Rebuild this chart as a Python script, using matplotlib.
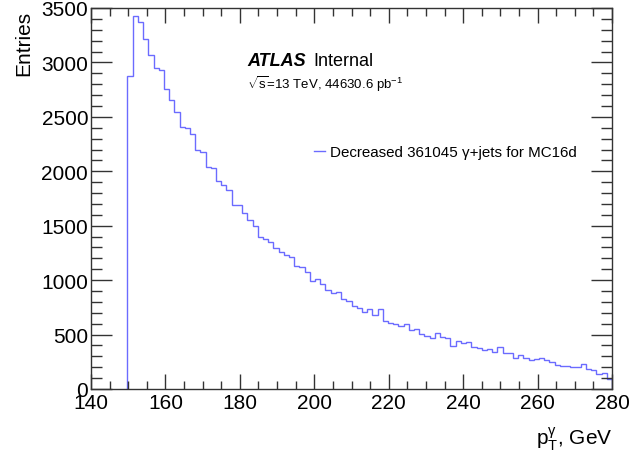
import numpy as np
import matplotlib
matplotlib.use("Agg")
import matplotlib.pyplot as plt
from matplotlib.ticker import MultipleLocator

plt.rcParams['font.family'] = ['Liberation Sans', 'DejaVu Sans']
plt.rcParams['mathtext.fontset'] = 'custom'
plt.rcParams['mathtext.rm'] = 'Liberation Sans'
plt.rcParams['mathtext.it'] = 'Liberation Sans:italic'

# Data: histogram of photon pT (bin width 1.4 GeV starting at 149.8 GeV)
bin_low = 149.8
bin_width = 1.4
entries = [
    2871, 3422, 3374, 3217, 3072, 2947, 2931, 2758, 2657, 2541,
    2406, 2400, 2343, 2191, 2179, 2035, 2030, 1915, 1871, 1824,
    1692, 1690, 1613, 1557, 1494, 1393, 1377, 1352, 1295, 1258,
    1233, 1217, 1132, 1123, 1077, 994, 1014, 969, 912, 880,
    890, 824, 811, 761, 745, 708, 739, 676, 739, 623,
    607, 597, 580, 600, 545, 550, 503, 488, 472, 512,
    481, 472, 393, 440, 418, 434, 387, 377, 361, 368,
    338, 387, 327, 330, 289, 308, 283, 267, 276, 283,
    267, 245, 220, 214, 211, 198, 204, 229, 182, 173,
    142, 148, 94,
]
legend_label = "Decreased 361045 \u03b3+jets for MC16d"
xlim = (140, 280)
ylim = (0, 3500)

edges = np.round(bin_low + bin_width * np.arange(len(entries) + 1), 2)

W, H = 631, 456
fig = plt.figure(figsize=(W / 100, H / 100), dpi=100)
ax = fig.add_axes([91 / W, 1 - 390 / H, (612 - 91) / W, (390 - 9) / H])

line_color = '#6b6bff'
ax.stairs(entries, edges, baseline=0, color=line_color, linewidth=1.0, label=legend_label)

ax.set_xlim(*xlim)
ax.set_ylim(*ylim)

ax.xaxis.set_major_locator(MultipleLocator(20))
ax.xaxis.set_minor_locator(MultipleLocator(5))
ax.yaxis.set_major_locator(MultipleLocator(500))
ax.yaxis.set_minor_locator(MultipleLocator(100))

ax.tick_params(axis='both', which='both', direction='in', top=True, right=True,
               labelsize=15, colors='#333333', labelcolor='black')
ax.tick_params(axis='y', which='major', length=15, width=1.0, pad=2)
ax.tick_params(axis='y', which='minor', length=8, width=1.0)
ax.tick_params(axis='x', which='major', length=11, width=1.0, pad=3)
ax.tick_params(axis='x', which='minor', length=6, width=1.0)
for s in ax.spines.values():
    s.set_color('#333333')
    s.set_linewidth(1.0)

fig.text(24 / W, 1 - 11 / H, "Entries", rotation=90, ha='center', va='top', fontsize=15)
fig.text(613 / W, 1 - 445 / H, "p$_{\\mathrm{T}}^{\\mathrm{\u03b3}}$, GeV", ha='right', va='baseline', fontsize=15)

fig.text(247 / W, 1 - 66 / H, "ATLAS", fontsize=13, fontweight='bold', fontstyle='italic', va='baseline')
fig.text(313 / W, 1 - 66 / H, "Internal", fontsize=13, va='baseline')
fig.text(247 / W, 1 - 89 / H, r"$\sqrt{\mathrm{s}}$=13 TeV, 44630.6 pb$^{\mathrm{-1}}$", fontsize=9.5, va='baseline')

ax.legend(loc='upper left', bbox_to_anchor=((314 - 91) / (612 - 91), 1 - (146 - 9) / (390 - 9)),
          frameon=False, fontsize=10.9, handlelength=0.75, handletextpad=0.3, borderaxespad=0,
          borderpad=0)

fig.savefig("out.png", dpi=100)
